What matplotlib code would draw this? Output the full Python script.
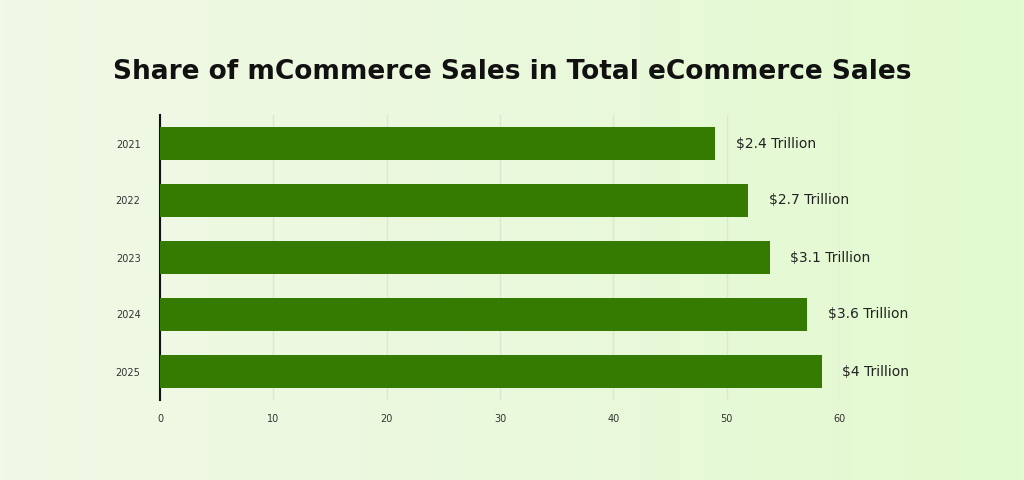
import matplotlib
matplotlib.use("Agg")
import matplotlib.pyplot as plt
import numpy as np

years = ["2021", "2022", "2023", "2024", "2025"]
shares = [49.0, 51.9, 53.8, 57.1, 58.4]
labels = ["$2.4 Trillion", "$2.7 Trillion", "$3.1 Trillion", "$3.6 Trillion", "$4 Trillion"]
xticks = [0, 10, 20, 30, 40, 50, 60]

fig = plt.figure(figsize=(10.24, 4.8), dpi=100)
bg = fig.add_axes([0, 0, 1, 1], zorder=-1)
grad = np.linspace(0, 1, 256).reshape(1, -1)
from matplotlib.colors import LinearSegmentedColormap
cmap = LinearSegmentedColormap.from_list("g", ["#f1f9e6", "#eaf8dc", "#e2fbcf"])
bg.imshow(grad, aspect="auto", cmap=cmap, extent=[0, 1, 0, 1])
bg.axis("off")

ax = fig.add_axes([160/1024, 1-400/480, 680/1024, 285/480])
ax.patch.set_alpha(0)
y = np.arange(len(years))
ax.barh(y, shares, height=0.58, color="#357a01", zorder=3)
for yi, v, t in zip(y, shares, labels):
    ax.text(v + 1.8, yi, t, va="center", ha="left", fontsize=10, family="DejaVu Sans", color="#222222")
ax.set_xlim(0, 60)
ax.set_ylim(len(years) - 0.5, -0.5)
ax.set_yticks(y)
ax.set_yticklabels(years, fontsize=7, color="#333333")
ax.set_xticks(xticks)
ax.set_xticklabels([str(t) for t in xticks], fontsize=7, color="#333333")
ax.tick_params(length=0, pad=10)
ax.tick_params(axis="y", pad=14)
ax.grid(axis="x", color="#dde6d3", linewidth=1, zorder=0)
for s in ["top", "right", "bottom"]:
    ax.spines[s].set_visible(False)
ax.spines["left"].set_color("#111111")
ax.spines["left"].set_linewidth(1.5)

fig.text(0.5, 1-72/480, "Share of mCommerce Sales in Total eCommerce Sales", ha="center", va="center",
         fontsize=19, fontweight="bold", color="#111111")
fig.savefig("out.png", dpi=100)
